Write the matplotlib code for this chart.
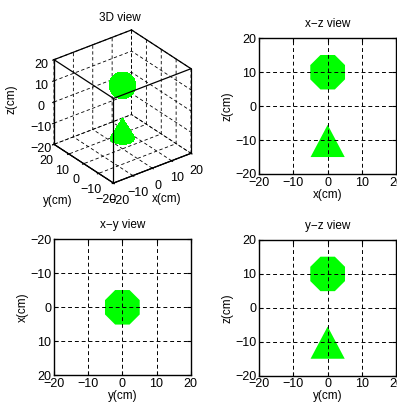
import numpy as np
import matplotlib
matplotlib.use('Agg')
import matplotlib.pyplot as plt
from mpl_toolkits.mplot3d import proj3d

plt.rcParams['font.family'] = ['Liberation Sans', 'DejaVu Sans']
plt.rcParams['font.size'] = 9

# scene (cm): a ball above a cone
ball_center = [0, 0, 10]
ball_radius = 5.5
cone_center = [0, 0]
cone_base_z = -15
cone_tip_z = -5.5
cone_radius = 5
lim = [-20, 20]
ticks = [-20, -10, 0, 10, 20]
green = '#00ff00'

W, H = 397, 405
fig = plt.figure(figsize=(W / 100, H / 100), dpi=100)


def px_rect(left, top, w, h):
    return [left / W, (H - top - h) / H, w / W, h / H]


grid_kw = dict(color='k', linewidth=0.7, linestyle=(0, (4, 3)))


def octagon(cx, cy, r):
    a = np.deg2rad(22.5 + 45 * np.arange(8))
    return np.column_stack([cx + r * np.cos(a), cy + r * np.sin(a)])


def triangle(cx, r, zb, zt):
    return np.array([[cx - r, zb], [cx + r, zb], [cx, zt]])


def style2d(ax, title, xl, yl):
    ax.set_xlim(lim)
    ax.set_xticks(ticks)
    ax.set_yticks(ticks)
    ax.grid(True, **grid_kw)
    ax.set_axisbelow(False)
    ax.tick_params(direction='in', length=3, width=0.8, top=True, right=True,
                   labelsize=9, pad=2)
    for s in ax.spines.values():
        s.set_linewidth(1.0)
    ax.set_title(title, fontsize=8.5, pad=8)
    ax.set_xlabel(xl, fontsize=8.5, labelpad=0)
    ax.set_ylabel(yl, fontsize=8.5, labelpad=1)


# x-z view
ax = fig.add_axes(px_rect(259.3, 38.3, 136.7, 135.7))
ax.fill(*triangle(cone_center[0], cone_radius, cone_base_z, cone_tip_z).T, color=green, lw=0, zorder=1)
ax.fill(*octagon(ball_center[0], ball_center[2], ball_radius).T, color=green, lw=0, zorder=1)
ax.set_ylim(lim)
style2d(ax, 'x\u2212z view', 'x(cm)', 'z(cm)')

# x-y view (y horizontal, x vertical downwards)
ax = fig.add_axes(px_rect(54, 239.3, 136.7, 136))
ax.fill(*octagon(cone_center[1], cone_center[0], cone_radius).T, color=green, lw=0, zorder=1)
ax.fill(*octagon(ball_center[1], ball_center[0], ball_radius).T, color=green, lw=0, zorder=1)
ax.set_ylim(lim[1], lim[0])
style2d(ax, 'x\u2212y view', 'y(cm)', 'x(cm)')

# y-z view
ax = fig.add_axes(px_rect(259.3, 240, 136.7, 135.7))
ax.fill(*triangle(cone_center[1], cone_radius, cone_base_z, cone_tip_z).T, color=green, lw=0, zorder=1)
ax.fill(*octagon(ball_center[1], ball_center[2], ball_radius).T, color=green, lw=0, zorder=1)
ax.set_ylim(lim)
style2d(ax, 'y\u2212z view', 'y(cm)', 'z(cm)')

# 3D view
side = 170
ax3 = fig.add_axes(px_rect(122.5 - side / 2, 106.5 - side / 2, side, side), projection='3d')
ax3.patch.set_facecolor('none')
ax3.set_proj_type('ortho')
ax3.view_init(elev=30, azim=-127.5)
ax3.computed_zorder = False
ax3.set_xlim(lim)
ax3.set_ylim(lim)
ax3.set_zlim(lim)
ax3.set_xticks(ticks)
ax3.set_yticks(ticks)
ax3.set_zticks(ticks)
for axis in (ax3.xaxis, ax3.yaxis, ax3.zaxis):
    axis.set_pane_color((1, 1, 1, 0))
    axis.pane.set_edgecolor((1, 1, 1, 0))
    axis._axinfo['grid'].update(color='k', linewidth=0.6, linestyle=(0, (4, 3)))
    axis.line.set_color('k')
    axis.line.set_linewidth(0.8)
    axis.set_rotate_label(False)
ax3.tick_params(labelsize=9, pad=-2)
ax3.set_xlabel('x(cm)', fontsize=8.5, labelpad=-5, rotation=0)
ax3.set_ylabel('y(cm)', fontsize=8.5, labelpad=0, rotation=0)
ax3.set_zlabel('z(cm)', fontsize=8.5, labelpad=-1, rotation=90)

u = np.linspace(0, 2 * np.pi, 17)
v = np.linspace(0, np.pi, 9)
bx = ball_center[0] + ball_radius * np.outer(np.cos(u), np.sin(v))
by = ball_center[1] + ball_radius * np.outer(np.sin(u), np.sin(v))
bz = ball_center[2] + ball_radius * np.outer(np.ones_like(u), np.cos(v))
rr = np.linspace(cone_radius, 0, 2)
cx = cone_center[0] + np.outer(np.cos(u), rr)
cy = cone_center[1] + np.outer(np.sin(u), rr)
cz = np.outer(np.ones_like(u), np.linspace(cone_base_z, cone_tip_z, 2))
ax3.plot_surface(cx, cy, cz, color=green, shade=False, linewidth=0, antialiased=False, zorder=2)
ax3.plot_surface(bx, by, bz, color=green, shade=False, linewidth=0, antialiased=False, zorder=3)

# box edges, except the three meeting at the hidden back-bottom corner
lo, hi = lim
corners = [(a, b, c) for a in lim for b in lim for c in lim]
hidden = (hi, hi, lo)
for i, p in enumerate(corners):
    for q in corners[i + 1:]:
        if sum(pp != qq for pp, qq in zip(p, q)) != 1:
            continue
        if p == hidden or q == hidden:
            continue
        ax3.plot(*zip(p, q), color='k', lw=0.9, zorder=5)

# fit the cube onto the reference box: 137 px wide, centred at (122.5, 106.5)
cxs, cys, czs = np.array(corners, dtype=float).T
zoom = 1.0
for _ in range(3):
    fig.canvas.draw()
    px, py, _ = proj3d.proj_transform(cxs, cys, czs, ax3.get_proj())
    pts = ax3.transData.transform(np.column_stack([px, py]))
    width_now = pts[:, 0].max() - pts[:, 0].min()
    zoom *= 137 / width_now
    ax3.set_box_aspect((1, 1, 1), zoom=zoom)
    mid_x = (pts[:, 0].max() + pts[:, 0].min()) / 2
    mid_y = (pts[:, 1].max() + pts[:, 1].min()) / 2
    pos = ax3.get_position(original=True)
    ax3.set_position([pos.x0 + (122.5 - mid_x) / W, pos.y0 + (H - 106.5 - mid_y) / H,
                      pos.width, pos.height])
ax3.set_title('3D view', fontsize=8.5, pad=-2)

fig.savefig('out.png', dpi=100)
